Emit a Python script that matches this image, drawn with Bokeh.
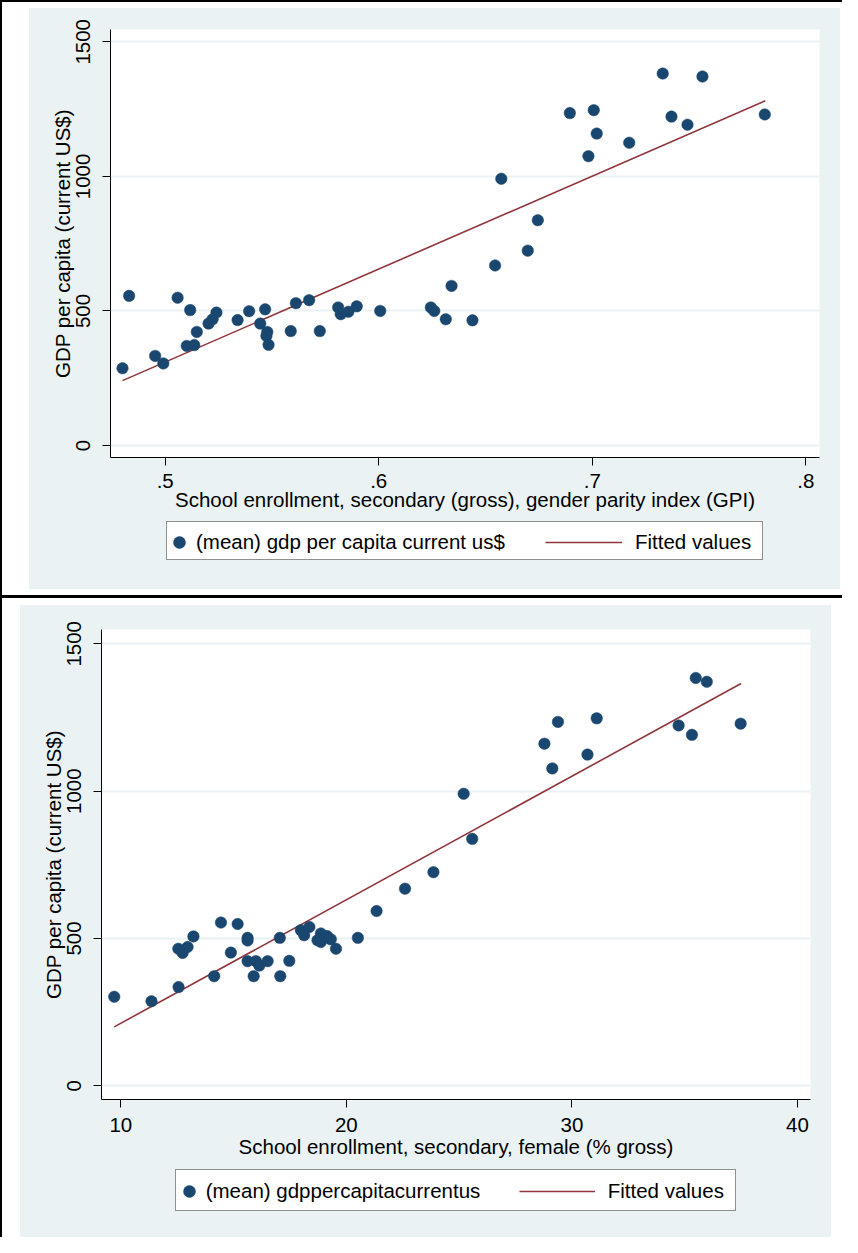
from bokeh.plotting import figure
from bokeh.models import Range1d, FixedTicker, Legend, LegendItem, Spacer
from bokeh.layouts import row, column
from bokeh.embed import file_html
from bokeh.resources import INLINE

# ---------------- data ----------------
gpi = [0.4800, 0.4831, 0.4953, 0.4991, 0.5058, 0.5101, 0.5117, 0.5136, 0.5148, 0.5203,
       0.5222, 0.5240, 0.5339, 0.5393, 0.5445, 0.5468, 0.5478, 0.5474, 0.5484, 0.5588,
       0.5612, 0.5674, 0.5724, 0.5810, 0.5822, 0.5858, 0.5897, 0.6007, 0.6244, 0.6260,
       0.6314, 0.6341, 0.6439, 0.6545, 0.6574, 0.6698, 0.6745, 0.6895, 0.6982, 0.7007,
       0.7021, 0.7173, 0.7330, 0.7371, 0.7446, 0.7516, 0.7808]
gdp_top = [287, 556, 333, 305, 549, 370, 503, 373, 422, 453,
           469, 494, 466, 499, 453, 506, 422, 407, 374, 425,
           529, 540, 425, 513, 488, 497, 517, 500, 513, 500,
           469, 593, 465, 669, 991, 724, 837, 1235, 1075, 1246,
           1159, 1125, 1382, 1222, 1192, 1371, 1230]
fit_top_x = [0.480, 0.781]
fit_top_y = [241, 1281]

female = [9.71, 11.36, 12.56, 12.55, 12.74, 12.96, 13.22, 14.14, 14.44, 14.88,
          15.18, 15.62, 15.62, 15.62, 15.99, 16.14, 15.89, 16.51, 17.05, 17.07,
          17.47, 17.98, 18.13, 18.36, 18.72, 18.87, 18.87, 19.14, 19.31, 19.54,
          20.51, 21.34, 22.60, 23.86, 25.20, 25.58, 28.78, 29.13, 29.38, 30.69,
          31.10, 34.73, 35.32, 35.49, 35.98, 37.48]
gdp_bot = [302, 287, 335, 465, 451, 471, 507, 372, 554, 452,
           549, 502, 493, 423, 423, 408, 372, 423, 502, 372,
           424, 528, 511, 539, 494, 517, 488, 508, 497, 465,
           502, 593, 669, 725, 991, 838, 1161, 1077, 1235, 1124,
           1247, 1223, 1191, 1384, 1371, 1229]
fit_bot_x = [9.71, 37.5]
fit_bot_y = [200, 1365]

y_ticks = [0, 500, 1000, 1500]
x_ticks_top = [0.5, 0.6, 0.7, 0.8]
x_labels_top = [".5", ".6", ".7", ".8"]
x_ticks_bot = [10, 20, 30, 40]
x_labels_bot = ["10", "20", "30", "40"]

y_title = "GDP per capita (current US$)"
x_title_top = "School enrollment, secondary (gross), gender parity index (GPI)"
x_title_bot = "School enrollment, secondary, female (% gross)"
leg_pts_top = "(mean) gdp per capita current us$"
leg_pts_bot = "(mean) gdppercapitacurrentus"
leg_fit = "Fitted values"

# ---------------- style ----------------
GREY = "#eaf2f3"
NAVY = "#1a476f"
MAROON = "#90353b"
FONT = "Liberation Sans"
FS = "20.5px"


def make_chart(xs, ys, fx, fy, xr, yr, xt, xl, xtitle, ltext, W, H, mb, HS, xstand, leg):
    p = figure(width=W, height=H, x_range=Range1d(*xr), y_range=Range1d(*yr),
               output_backend="svg", toolbar_location=None,
               min_border_left=mb[0], min_border_right=mb[1],
               min_border_top=mb[2], min_border_bottom=mb[3])
    p.border_fill_color = GREY
    p.background_fill_color = "white"
    p.outline_line_color = None
    p.xgrid.visible = False
    p.ygrid.ticker = FixedTicker(ticks=y_ticks)
    p.ygrid.grid_line_color = GREY
    p.ygrid.grid_line_width = 2

    p.xaxis.ticker = FixedTicker(ticks=xt)
    p.xaxis.major_label_overrides = {t: l for t, l in zip(xt, xl)}
    p.yaxis.ticker = FixedTicker(ticks=y_ticks)
    p.yaxis.major_label_orientation = "vertical"
    p.xaxis.axis_label = xtitle
    p.yaxis.axis_label = y_title
    for ax in (p.xaxis[0], p.yaxis[0]):
        ax.major_tick_out = 8
        ax.major_tick_in = 0
        ax.minor_tick_out = 0
        ax.minor_tick_in = 0
        ax.axis_line_color = "black"
        ax.major_tick_line_color = "black"
        ax.major_label_text_font = FONT
        ax.major_label_text_font_size = FS
        ax.major_label_text_color = "black"
        ax.axis_label_text_font = FONT
        ax.axis_label_text_font_size = FS
        ax.axis_label_text_font_style = "normal"
        ax.axis_label_text_color = "black"
    p.xaxis.major_label_standoff = xstand[0]
    p.xaxis.axis_label_standoff = xstand[1]
    p.yaxis.major_label_standoff = 12
    p.yaxis.axis_label_standoff = 0

    p.line(fx, fy, line_color=MAROON, line_width=1.6)
    p.scatter(xs, ys, marker="circle", size=11.5, fill_color=NAVY, line_color=NAVY, line_width=0.5)

    # legend strip (grey, below the axis titles); its frame aligns with the plot frame
    lf = figure(width=W, height=HS, x_range=Range1d(0, 1), y_range=Range1d(0, 1),
                output_backend="svg", toolbar_location=None, min_border=0,
                x_axis_location=None, y_axis_location=None)
    lf.background_fill_color = GREY
    lf.border_fill_color = GREY
    lf.outline_line_color = None
    lf.grid.visible = False
    pts_l = lf.scatter(xs, ys, marker="circle", size=11.5, fill_color=NAVY, line_color=NAVY,
                       line_width=0.5, visible=False)
    fit_l = lf.line(fx, fy, line_color=MAROON, line_width=1.6, visible=False)
    dummy = lf.line(fx, fy, line_alpha=0, visible=False)

    bx, by, bw, bh, cx, cy, cs, lx, lgw, ls = leg
    box = Legend(items=[LegendItem(label=" ", renderers=[dummy])], location=(bx, by),
                 padding=0, margin=0, glyph_width=0, glyph_height=bh, label_height=bh,
                 label_width=bw, label_standoff=0, border_line_color="#222222",
                 border_line_width=1, background_fill_color="white", background_fill_alpha=1)
    l1 = Legend(items=[LegendItem(label=ltext, renderers=[pts_l])], location=(cx, cy),
                padding=0, margin=0, glyph_width=30, glyph_height=30, label_height=30,
                label_standoff=cs, border_line_alpha=0, background_fill_alpha=0,
                label_text_font=FONT, label_text_font_size=FS, label_text_color="black")
    l2 = Legend(items=[LegendItem(label=leg_fit, renderers=[fit_l])], location=(lx, cy),
                padding=0, margin=0, glyph_width=lgw, glyph_height=30, label_height=30,
                label_standoff=ls, border_line_alpha=0, background_fill_alpha=0,
                label_text_font=FONT, label_text_font_size=FS, label_text_color="black")
    for lg in (box, l1, l2):
        lf.add_layout(lg)
    return column(p, lf, styles={"background-color": GREY})


c1 = make_chart(gpi, gdp_top, fit_top_x, fit_top_y, (0.47438, 0.80642), (-44.6, 1545.7),
                x_ticks_top, x_labels_top, x_title_top, leg_pts_top,
                811, 512, (81, 21, 21, 63), 69, (8, -3),
                (56, 28.7, 595, 37, 54, 32, 2, 435, 77, 13))
c2 = make_chart(female, gdp_bot, fit_bot_x, fit_bot_y, (9.144, 40.577), (-46.5, 1548.5),
                x_ticks_bot, x_labels_bot, x_title_bot, leg_pts_bot,
                811, 559, (81, 21, 24, 65), 73, (10, 0),
                (74.3, 26, 559, 40, 72.7, 30.8, 2, 417.7, 76, 13))

BLACK = {"background-color": "black"}
col = column(
    Spacer(width=840, height=2, styles=BLACK),
    Spacer(width=840, height=6),
    row(Spacer(width=27, height=581), c1),
    Spacer(width=840, height=6),
    Spacer(width=840, height=3, styles=BLACK),
    Spacer(width=840, height=7),
    row(Spacer(width=18, height=632), c2),
)
root = row(Spacer(width=2, height=1237, styles=BLACK), col)

open("out.html", "w").write(file_html(root, INLINE))
